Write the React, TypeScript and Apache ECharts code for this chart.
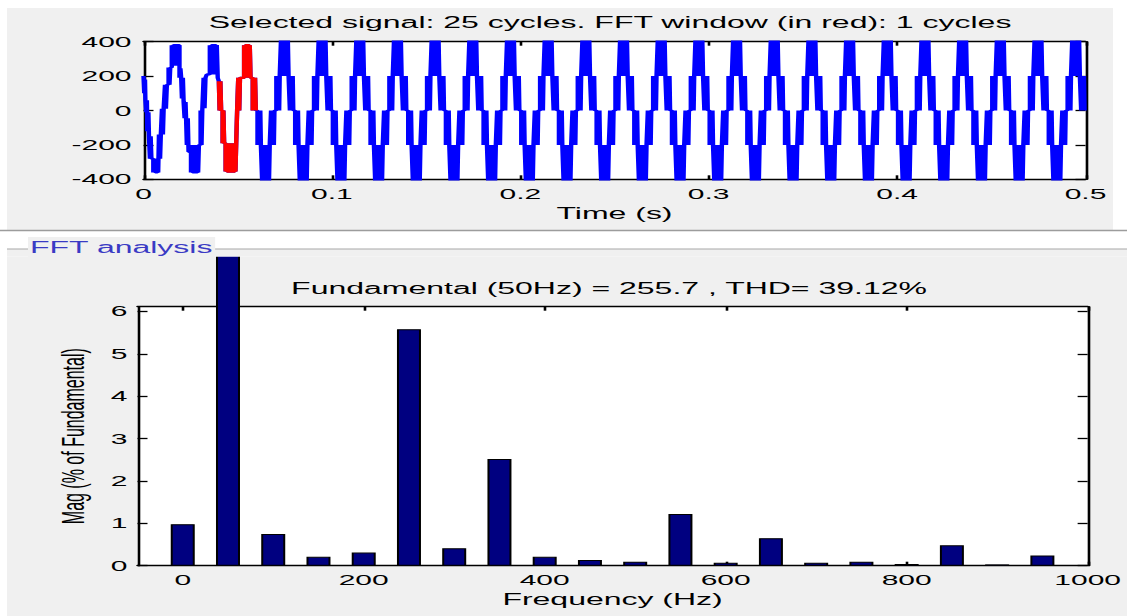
import React, { useEffect, useRef } from "react";
import * as echarts from "echarts";

// The reference is a MATLAB FFT-analysis window stretched horizontally (x2).
// The chart is drawn at native width and stretched with a CSS scaleX.
const PAGE_W = 1127;
const W = 563.5;
const H = 616;
const FONT = "'Liberation Sans', Arial, sans-serif";

// ---------- Top panel: selected signal ----------
const topTitle = "Selected signal: 25 cycles. FFT window (in red): 1 cycles";
const timeAxisName = "Time (s)";
const timeMin = 0;
const timeMax = 0.5;
const timeInterval = 0.1;
const ampMin = -400;
const ampMax = 400;
const ampInterval = 200;

// first two cycles (transient), time in ms, step levels
const transientMs = [
  0, 0.4, 0.8, 1.0, 1.4, 1.8, 2.0, 2.6, 2.9, 3.4,
  3.8, 4.2, 5.2, 5.8, 6.3, 7.4, 7.8, 8.2, 8.8, 9.2,
  9.8, 10.3, 10.7, 11.4, 11.9, 12.4, 13.3, 13.8, 14.2, 15.0,
  15.6, 15.9, 17.8, 18.2, 19.1, 19.6, 20.0, 20.4, 20.9, 21.3,
  21.8, 22.3, 22.6, 23.0, 23.5, 23.9, 25.2, 25.7, 26.1, 27.3,
  27.6, 28.6, 29.0, 29.4, 30.3, 30.8, 31.2, 31.9, 32.4, 32.9,
  33.6, 35.2, 35.7, 36.1, 37.2, 37.5, 38.5, 38.9, 39.4,
];
const transientLevel = [
  200, 100, 180, 60, -10, 60, -120, -10, -150, -280,
  -150, -280, -360, -280, -360, -280, -360, -140, -280, -140,
  10, -140, 10, 150, 10, 150, 250, 150, 250, 380,
  260, 380, 260, 380, 190, 245, 190, 70, 190, 50,
  -45, 50, -45, -200, -45, -240, -360, -200, -360, -200,
  -360, -200, -360, -200, 0, -200, 0, 190, 13, 190,
  210, 380, 210, 380, 210, 380, 210, 380, 190,
];

// FFT window (red), 40 ms .. 60 ms
const windowStartMs = 40;
const windowEndMs = 60;
const windowMs = [
  40.0, 40.4, 40.8, 41.2, 42.0, 42.4, 42.8, 43.6, 44.0, 44.4,
  46.2, 46.5, 48.4, 48.8, 49.2, 49.7, 50.3, 50.8, 51.2, 53.4,
  53.8, 54.2, 56.0, 56.4, 56.8, 58.0, 58.4, 58.8, 59.2, 59.6,
];
const windowLevel = [
  170, 0, 170, 0, -190, 0, -190, -355, -190, -355,
  -190, -355, -190, -355, -190, 0, 190, 0, 190, 380,
  190, 380, 190, 380, 190, 0, 190, 0, 190, 0,
];

// steady-state 5-level cycle (phase in ms, 20 ms period)
const steadyPhaseMs = [
  0, 0.5, 0.8, 1.1, 1.4, 1.7, 2.0, 2.3, 3.0, 3.4,
  3.7, 4.1, 4.4, 5.6, 5.9, 6.3, 6.6, 7.0, 7.7, 8.0,
  8.3, 8.6, 8.9, 9.2, 9.5, 10.5, 10.8, 11.1, 11.4, 11.7,
  12.0, 12.3, 13.0, 13.4, 13.7, 14.1, 14.4, 15.6, 15.9, 16.3,
  16.6, 17.0, 17.7, 18.0, 18.3, 18.6, 18.9, 19.2, 19.5,
];
const steadyLevel = [
  0, -200, 0, -200, 0, -200, 0, -200, -420, -200,
  -420, -200, -420, -200, -420, -200, -420, -200, 0, -200,
  0, -200, 0, -200, 0, 200, 0, 200, 0, 200,
  0, 200, 420, 200, 420, 200, 420, 200, 420, 200,
  420, 200, 0, 200, 0, 200, 0, 200, 0,
];
const steadyStartMs = 60;
const cycleMs = 20;
const steadyCycles = 22;
const endMs = 500;

// ---------- Bottom panel: FFT analysis ----------
const panelTitle = "FFT analysis";
const fftTitle = "Fundamental (50Hz) = 255.7 , THD= 39.12%";
const freqAxisName = "Frequency (Hz)";
const magAxisName = "Mag (% of Fundamental)";
const freqHz = [0, 50, 100, 150, 200, 250, 300, 350, 400, 450, 500, 550, 600, 650, 700, 750, 800, 850, 900, 950];
const magPct = [0.98, 100, 0.75, 0.21, 0.31, 5.58, 0.41, 2.52, 0.21, 0.135, 0.095, 1.22, 0.07, 0.65, 0.07, 0.095, 0.04, 0.48, 0.03, 0.24];
const freqMin = -50;
const freqMax = 1000;
const freqTicks = [0, 200, 400, 600, 800, 1000];
const magMin = 0;
const magMax = 6.11;
const magTicks = [0, 1, 2, 3, 4, 5, 6];

function buildSignal() {
  const pts: [number, number][] = [];
  transientMs.forEach((t, i) => pts.push([t / 1000, transientLevel[i]]));
  windowMs.forEach((t, i) => pts.push([t / 1000, windowLevel[i]]));
  for (let c = 0; c < steadyCycles; c++) {
    steadyPhaseMs.forEach((p, i) => pts.push([(steadyStartMs + c * cycleMs + p) / 1000, steadyLevel[i]]));
  }
  pts.push([endMs / 1000, steadyLevel[0]]);
  return pts;
}

const K = "#000";
const axisLine = { show: true, onZero: false, lineStyle: { color: K, width: 1.3 } };
const tick = (len: number) => ({ show: true, inside: true, length: len, lineStyle: { color: K, width: 1.3 } });
const label = (margin: number) => ({ color: K, fontSize: 15, fontFamily: FONT, margin, formatter: (v: number) => String(v) });

export default function App() {
  const ref = useRef<HTMLDivElement>(null);
  useEffect(() => {
    const chart = echarts.init(ref.current!, undefined, { renderer: "svg", width: W, height: H });
    const signal = buildSignal();
    const red = signal.filter((p) => p[0] >= windowStartMs / 1000 - 1e-9 && p[0] < windowEndMs / 1000 - 1e-9);
    red.push([windowEndMs / 1000, steadyLevel[0]]);

    const option: any = {
      animation: false,
      textStyle: { fontFamily: FONT },
      grid: [
        { left: 71.75, top: 41.7, width: 471, height: 137.6, show: true, backgroundColor: "#fff", borderWidth: 0, z: 6 },
        { left: 68.75, top: 306.7, width: 475.25, height: 259, show: true, backgroundColor: "#fff", borderWidth: 0, z: 1 },
      ],
      xAxis: [
        {
          gridIndex: 0, type: "value", min: timeMin, max: timeMax, interval: timeInterval, position: "bottom",
          axisLine, axisTick: tick(4), axisLabel: label(7), splitLine: { show: false },
          name: timeAxisName, nameLocation: "middle", nameGap: 26,
          nameTextStyle: { color: K, fontSize: 16, fontFamily: FONT }, z: 7,
        },
        {
          gridIndex: 0, type: "value", min: timeMin, max: timeMax, interval: timeInterval, position: "top",
          axisLine, axisTick: tick(4), axisLabel: { show: false }, splitLine: { show: false }, z: 7,
        },
        {
          gridIndex: 1, type: "value", min: freqMin, max: freqMax, position: "bottom",
          axisLine, axisTick: { ...tick(4), customValues: freqTicks },
          axisLabel: { ...label(7), customValues: freqTicks }, splitLine: { show: false },
          name: freqAxisName, nameLocation: "middle", nameGap: 26,
          nameTextStyle: { color: K, fontSize: 16, fontFamily: FONT }, z: 2,
        },
        {
          gridIndex: 1, type: "value", min: freqMin, max: freqMax, position: "top",
          axisLine, axisTick: { ...tick(4), customValues: freqTicks }, axisLabel: { show: false },
          splitLine: { show: false }, z: 2,
        },
      ],
      yAxis: [
        {
          gridIndex: 0, type: "value", min: ampMin, max: ampMax, interval: ampInterval, position: "left",
          axisLine, axisTick: tick(5), axisLabel: label(6), splitLine: { show: false }, z: 7,
        },
        {
          gridIndex: 0, type: "value", min: ampMin, max: ampMax, interval: ampInterval, position: "right",
          axisLine, axisTick: tick(5), axisLabel: { show: false }, splitLine: { show: false }, z: 7,
        },
        {
          gridIndex: 1, type: "value", min: magMin, max: magMax, position: "left",
          axisLine, axisTick: { ...tick(5), customValues: magTicks },
          axisLabel: { ...label(5), customValues: magTicks }, splitLine: { show: false },
          name: magAxisName, nameLocation: "middle", nameGap: 22, nameRotate: 90,
          nameTextStyle: { color: K, fontSize: 16, fontFamily: FONT }, z: 2,
        },
        {
          gridIndex: 1, type: "value", min: magMin, max: magMax, position: "right",
          axisLine, axisTick: { ...tick(5), customValues: magTicks }, axisLabel: { show: false },
          splitLine: { show: false }, z: 2,
        },
      ],
      series: [
        {
          type: "line", xAxisIndex: 0, yAxisIndex: 0, data: signal, step: "end", showSymbol: false,
          lineStyle: { color: "#0000ff", width: 2.2 }, silent: true, z: 8,
        },
        {
          type: "line", xAxisIndex: 0, yAxisIndex: 0, data: red, step: "end", showSymbol: false,
          lineStyle: { color: "#ff0000", width: 2.2 }, silent: true, z: 9,
        },
        {
          type: "bar", xAxisIndex: 2, yAxisIndex: 2, data: freqHz.map((f, i) => [f, magPct[i]]),
          barWidth: 12, clip: false, silent: true, z: 3,
          itemStyle: { color: "#000080", borderColor: "#000", borderWidth: 1 },
        },
      ],
      graphic: {
        elements: [
          { type: "rect", z: 0, silent: true, shape: { x: 3.5, y: 249, width: W - 3.5, height: H - 249 }, style: { fill: "#f0f0f0" } },
          { type: "rect", z: 4, silent: true, shape: { x: 0, y: 0, width: W, height: 256.5 }, style: { fill: "#ffffff" } },
          { type: "rect", z: 5, silent: true, shape: { x: 3.5, y: 8, width: 553, height: 222 }, style: { fill: "#f0f0f0" } },
          { type: "rect", z: 5, silent: true, shape: { x: 3.5, y: 249, width: W - 3.5, height: 7.5 }, style: { fill: "#f0f0f0" } },
          { type: "line", z: 6, silent: true, shape: { x1: 0, y1: 230.5, x2: W, y2: 230.5 }, style: { stroke: "#9c9c9c", lineWidth: 1.5 } },
          { type: "line", z: 6, silent: true, shape: { x1: 3.5, y1: 249, x2: W, y2: 249 }, style: { stroke: "#a8a8a8", lineWidth: 1 } },
          {
            type: "text", z: 7, silent: true, x: 14, y: 247,
            style: { text: panelTitle, fontSize: 16, fontFamily: FONT, fill: "#3a3ac4", backgroundColor: "#f0f0f0", padding: [2, 1], align: "left", verticalAlign: "middle", textAlign: "left", textVerticalAlign: "middle" },
          },
          {
            type: "text", z: 7, silent: true, x: 305, y: 22,
            style: { text: topTitle, fontSize: 16, fontFamily: FONT, fill: K, align: "center", verticalAlign: "middle", textAlign: "center", textVerticalAlign: "middle" },
          },
          {
            type: "text", z: 7, silent: true, x: 304.5, y: 288,
            style: { text: fftTitle, fontSize: 16, fontFamily: FONT, fill: K, align: "center", verticalAlign: "middle", textAlign: "center", textVerticalAlign: "middle" },
          },
        ],
      },
    };
    chart.setOption(option);
    return () => chart.dispose();
  }, []);

  return (
    <div style={{ position: "fixed", left: 0, top: 0, width: PAGE_W, height: H, background: "#fff", overflow: "hidden" }}>
      <div
        ref={ref}
        style={{ width: W, height: H, transform: `scaleX(${PAGE_W / W})`, transformOrigin: "0 0" }}
      />
    </div>
  );
}
